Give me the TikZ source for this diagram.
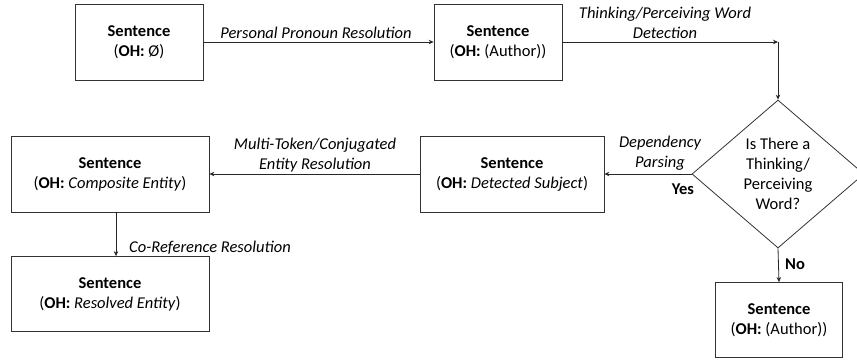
\documentclass[tikz,border=0pt]{standalone}
\usepackage{fontspec}
\setmainfont{Carlito}
\usetikzlibrary{shapes.geometric,arrows.meta}
\begin{document}
\begin{tikzpicture}[x=1pt,y=-1pt,
  sbox/.style={draw=black!80,line width=0.8pt,align=center,inner sep=0pt,font=\fontsize{16.5}{20}\selectfont},
  conn/.style={line width=0.8pt,draw=black!85,-{Stealth[length=5pt,width=4.5pt]}},
  lbl/.style={font=\fontsize{16.5}{20.5}\selectfont\itshape,align=center,inner sep=0pt},
  blbl/.style={font=\fontsize{16.5}{20}\selectfont\bfseries,inner sep=0pt}]
\useasboundingbox (0,0) rectangle (857,360);
\node[sbox,minimum width=128pt,minimum height=76pt] (b1) at (139,42) {\textbf{Sentence}\\(\textbf{OH:} Ø)};
\node[sbox,minimum width=128pt,minimum height=76pt] (b2) at (498,42) {\textbf{Sentence}\\(\textbf{OH:} (Author))};
\node[sbox,shape=diamond,minimum width=172pt,minimum height=148pt] (d) at (778,174) {Is There a\\Thinking/\\Perceiving\\Word?};
\node[sbox,minimum width=184pt,minimum height=76pt] (b3) at (512,174) {\textbf{Sentence}\\(\textbf{OH:} \textit{Detected Subject})};
\node[sbox,minimum width=198pt,minimum height=76pt] (b4) at (110,174) {\textbf{Sentence}\\(\textbf{OH:} \textit{Composite Entity})};
\node[sbox,minimum width=198pt,minimum height=75pt] (b5) at (110,294) {\textbf{Sentence}\\(\textbf{OH:} \textit{Resolved Entity})};
\node[sbox,minimum width=127pt,minimum height=75pt] (b6) at (779,320) {\textbf{Sentence}\\(\textbf{OH:} (Author))};
\coordinate (c1) at (778,42);
\draw[conn] (b1) -- (b2);
\node[lbl] (l1) at (316,33) {Personal Pronoun Resolution};
\draw[conn] (b2.east) -- (c1);
\node[lbl] (l2) at (665,23) {Thinking/Perceiving Word\\Detection};
\draw[conn] (c1) -- (d.north);
\draw[conn] (d.west) -- (b3.east);
\node[lbl] (l3) at (660,153) {Dependency\\Parsing};
\node[blbl] (yes) at (683,189) {Yes};
\draw[conn] (b3.west) -- (b4.east);
\node[lbl] (l4) at (315,155) {Multi-Token/Conjugated\\Entity Resolution};
\draw[conn] ([xshift=6pt]b4.south) -- ([xshift=6pt]b5.north);
\node[lbl,anchor=west] (l5) at (129,248) {Co-Reference Resolution};
\draw[conn] (d.south) -- (b6.north);
\node[blbl] (no) at (795,264) {No};
\end{tikzpicture}
\end{document}
